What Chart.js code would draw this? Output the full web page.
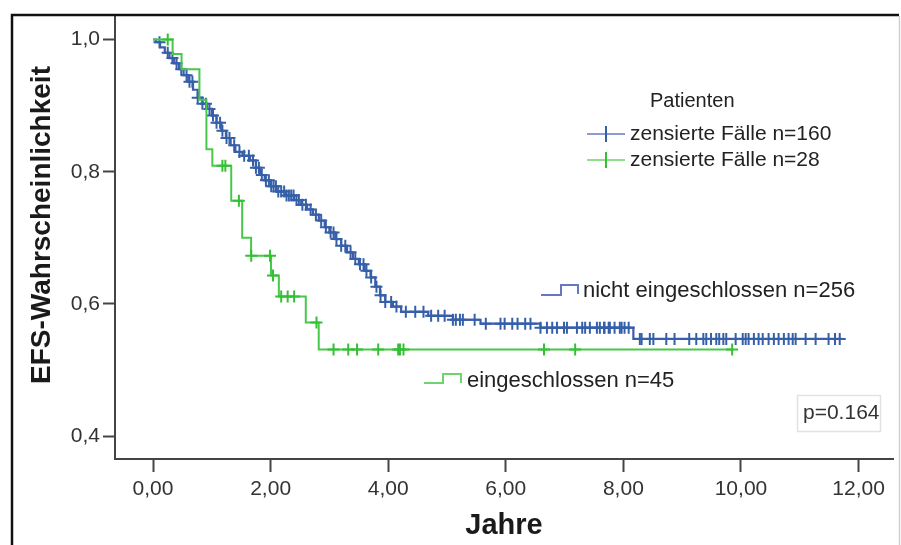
<!DOCTYPE html>
<html><head><meta charset="utf-8">
<script src="https://cdn.jsdelivr.net/npm/chart.js@4"></script>
<style>html,body{margin:0;padding:0;background:#fff}canvas{display:block}</style>
</head><body>
<canvas id="c" width="901" height="545"></canvas>
<script>
// ---- Data ----
const xTicks = [0, 2, 4, 6, 8, 10, 12];
const xTickLabels = ['0,00', '2,00', '4,00', '6,00', '8,00', '10,00', '12,00'];
const yTicks = [0.4, 0.6, 0.8, 1.0];
const yTickLabels = ['0,4', '0,6', '0,8', '1,0'];

const xTitle = 'Jahre';
const yTitle = 'EFS-Wahrscheinlichkeit';
const legendTitle = 'Patienten';
const seriesLabels = ['nicht eingeschlossen n=256', 'eingeschlossen n=45'];
const censorLabels = ['zensierte Fälle n=160', 'zensierte Fälle n=28'];
const pValueText = 'p=0.164';

// Group "nicht eingeschlossen" (blue): event times and survival after each event
const blueTimes = [0, 0.05, 0.12, 0.20, 0.28, 0.36, 0.44, 0.52, 0.60, 0.68, 0.76, 0.84, 0.92, 1.00, 1.08, 1.16, 1.24, 1.32, 1.40, 1.52, 1.65, 1.75, 1.82, 1.90, 2.00, 2.10, 2.25, 2.40, 2.52, 2.62, 2.72, 2.82, 2.92, 3.00, 3.10, 3.20, 3.30, 3.40, 3.50, 3.60, 3.70, 3.78, 3.86, 3.95, 4.08, 4.22, 4.68, 5.10, 5.57, 6.59, 8.17];
const blueSurv  = [1.000, 0.996, 0.988, 0.980, 0.972, 0.964, 0.955, 0.946, 0.936, 0.924, 0.912, 0.903, 0.895, 0.885, 0.874, 0.862, 0.851, 0.840, 0.830, 0.824, 0.817, 0.806, 0.795, 0.787, 0.778, 0.770, 0.764, 0.757, 0.750, 0.743, 0.735, 0.726, 0.716, 0.708, 0.698, 0.688, 0.678, 0.668, 0.660, 0.650, 0.640, 0.626, 0.613, 0.603, 0.596, 0.588, 0.582, 0.576, 0.570, 0.564, 0.547];
const blueEnd = 11.72;
const blueCensor = [0.11, 0.25, 0.33, 0.40, 0.48, 0.57, 0.62, 0.67, 0.76, 0.84, 0.90, 0.96, 1.02, 1.08, 1.14, 1.18, 1.25, 1.30, 1.38, 1.47, 1.55, 1.63, 1.70, 1.75, 1.80, 1.85, 1.92, 1.97, 2.01, 2.05, 2.09, 2.13, 2.18, 2.23, 2.27, 2.31, 2.35, 2.39, 2.44, 2.48, 2.54, 2.60, 2.68, 2.77, 2.86, 2.94, 3.02, 3.07, 3.12, 3.20, 3.27, 3.36, 3.44, 3.52, 3.58, 3.63, 3.71, 3.80, 3.87, 3.95, 4.05, 4.14, 4.30, 4.46, 4.60, 4.73, 4.85, 4.96, 5.10, 5.15, 5.22, 5.27, 5.47, 5.66, 5.91, 5.98, 6.11, 6.20, 6.33, 6.42, 6.59, 6.70, 6.79, 6.87, 6.99, 7.04, 7.21, 7.30, 7.35, 7.43, 7.55, 7.60, 7.67, 7.68, 7.75, 7.77, 7.85, 7.94, 7.97, 8.02, 8.09, 8.28, 8.31, 8.45, 8.51, 8.73, 8.87, 9.12, 9.24, 9.36, 9.41, 9.49, 9.58, 9.63, 9.70, 9.75, 9.91, 10.03, 10.08, 10.13, 10.22, 10.30, 10.37, 10.47, 10.56, 10.64, 10.73, 10.81, 10.88, 10.93, 11.10, 11.27, 11.49, 11.60, 11.68];

// Group "eingeschlossen" (green)
const greenTimes = [0, 0.333, 0.485, 0.789, 0.908, 1.009, 1.33, 1.516, 1.668, 2.006, 2.14, 2.598, 2.818];
const greenSurv  = [1.000, 0.978, 0.955, 0.909, 0.834, 0.809, 0.756, 0.700, 0.673, 0.643, 0.611, 0.572, 0.531];
const greenEnd = 9.85;
const greenCensor = [0.25, 1.18, 1.23, 1.46, 1.67, 1.99, 2.04, 2.18, 2.29, 2.40, 2.78, 3.07, 3.32, 3.47, 3.83, 4.17, 4.20, 4.26, 6.65, 7.18, 9.85];

// ---- Helpers ----
const BLUE = '#4058b0';
const BLUE_MARK = '#3560a8';
const GREEN = '#48c848';
const GREEN_MARK = '#34c034';

function stepAt(times, surv, t) {
  let s = surv[0];
  for (let i = 0; i < times.length; i++) { if (times[i] <= t) s = surv[i]; else break; }
  return s;
}
function curve(times, surv, end) {
  const pts = times.map((t, i) => ({x: t, y: surv[i]}));
  pts.push({x: end, y: surv[surv.length - 1]});
  return pts;
}
function marks(times, surv, cens) {
  return cens.map(t => ({x: t, y: stepAt(times, surv, t)}));
}

const FONT = '"Liberation Sans", Arial, sans-serif';

const decor = {
  id: 'decor',
  beforeDraw(chart) {
    const ctx = chart.ctx;
    ctx.save();
    ctx.fillStyle = '#fff';
    ctx.fillRect(0, 0, chart.width, chart.height);
    ctx.restore();
  },
  afterDraw(chart) {
    const ctx = chart.ctx;
    ctx.save();
    // outer frame
    ctx.strokeStyle = '#111';
    ctx.lineWidth = 2.5;
    ctx.beginPath();
    ctx.moveTo(12, 545); ctx.lineTo(12, 15); ctx.lineTo(899, 15);
    ctx.stroke();
    ctx.strokeStyle = '#d0d0d0';
    ctx.lineWidth = 1.5;
    ctx.beginPath(); ctx.moveTo(899.5, 16); ctx.lineTo(899.5, 545); ctx.stroke();

    // y title
    ctx.fillStyle = '#1a1a1a';
    ctx.font = 'bold 28px ' + FONT;
    ctx.textAlign = 'center';
    ctx.textBaseline = 'middle';
    ctx.save();
    ctx.translate(42, 225);
    ctx.rotate(-Math.PI / 2);
    ctx.fillText(yTitle, 0, 0);
    ctx.restore();

    // legend
    ctx.textAlign = 'left';
    ctx.fillStyle = '#222';
    ctx.font = '20px ' + FONT;
    ctx.fillText(legendTitle, 650, 101);
    ctx.font = '21px ' + FONT;
    const entries = [[BLUE, BLUE_MARK, 134, censorLabels[0]], [GREEN, GREEN_MARK, 160, censorLabels[1]]];
    for (const [lc, mc, y, txt] of entries) {
      ctx.strokeStyle = lc; ctx.globalAlpha = 0.6; ctx.lineWidth = 2;
      ctx.beginPath(); ctx.moveTo(587, y); ctx.lineTo(625, y); ctx.stroke();
      ctx.globalAlpha = 1; ctx.strokeStyle = mc; ctx.lineWidth = 2;
      ctx.beginPath(); ctx.moveTo(606, y - 8); ctx.lineTo(606, y + 8); ctx.stroke();
      ctx.fillStyle = '#222';
      ctx.fillText(txt, 630, y);
    }

    // inline series labels with step symbols
    ctx.lineWidth = 2;
    ctx.strokeStyle = BLUE; ctx.globalAlpha = 0.8;
    ctx.beginPath(); ctx.moveTo(541, 295); ctx.lineTo(561, 295); ctx.lineTo(561, 285); ctx.lineTo(578, 285); ctx.lineTo(578, 294); ctx.stroke();
    ctx.strokeStyle = GREEN;
    ctx.beginPath(); ctx.moveTo(424, 383); ctx.lineTo(443, 383); ctx.lineTo(443, 374); ctx.lineTo(461, 374); ctx.lineTo(461, 383); ctx.stroke();
    ctx.globalAlpha = 1;
    ctx.fillStyle = '#222';
    ctx.font = '22px ' + FONT;
    ctx.fillText(seriesLabels[0], 583, 291);
    ctx.fillText(seriesLabels[1], 467, 381);

    // p-value box
    ctx.font = '21px ' + FONT;
    ctx.strokeStyle = '#e2e2e2'; ctx.lineWidth = 1.5;
    ctx.strokeRect(797.5, 395.5, 83, 36);
    ctx.fillStyle = '#333';
    ctx.fillText(pValueText, 803, 413);
    ctx.restore();
  }
};

new Chart(document.getElementById('c'), {
  data: {
    datasets: [
      { type: 'scatter', data: marks(greenTimes, greenSurv, greenCensor), showLine: false,
        pointStyle: 'cross', pointRadius: 6, borderColor: GREEN_MARK, borderWidth: 2, backgroundColor: GREEN_MARK },
      { type: 'line', data: curve(greenTimes, greenSurv, greenEnd), stepped: 'before',
        borderColor: GREEN, borderWidth: 2, pointRadius: 0, fill: false },
      { type: 'scatter', data: marks(blueTimes, blueSurv, blueCensor), showLine: false,
        pointStyle: 'cross', pointRadius: 6, borderColor: BLUE_MARK, borderWidth: 2, backgroundColor: BLUE_MARK },
      { type: 'line', data: curve(blueTimes, blueSurv, blueEnd), stepped: 'before',
        borderColor: BLUE, borderWidth: 2.2, pointRadius: 0, fill: false }
    ]
  },
  options: {
    responsive: false,
    animation: false,
    events: [],
    layout: { padding: { left: 0, top: 14, right: 3, bottom: 0 } },
    plugins: { legend: { display: false }, tooltip: { enabled: false }, title: { display: false } },
    scales: {
      x: {
        type: 'linear', position: 'bottom', min: -0.647, max: 12.586,
        afterBuildTicks: s => { s.ticks = xTicks.map(v => ({ value: v })); },
        afterFit: s => { s.height = 86; },
        ticks: { callback: (v, i) => xTickLabels[i], font: { size: 21, family: FONT }, color: '#333', padding: 5, maxRotation: 0, autoSkip: false },
        grid: { drawOnChartArea: false, drawTicks: true, tickLength: 13, tickWidth: 2, tickColor: '#444' },
        border: { color: '#444', width: 2 },
        title: { display: true, text: xTitle, font: { size: 29, weight: 'bold', family: FONT }, color: '#1a1a1a', padding: { top: 0, bottom: 2 } }
      },
      y: {
        type: 'linear', position: 'left', min: 0.3653, max: 1.0362,
        afterBuildTicks: s => { s.ticks = yTicks.map(v => ({ value: v })); },
        afterFit: s => { s.width = 115; },
        ticks: { callback: (v, i) => yTickLabels[i], font: { size: 21, family: FONT }, color: '#333', padding: 3, autoSkip: false },
        grid: { drawOnChartArea: false, drawTicks: true, tickLength: 12, tickWidth: 2, tickColor: '#444' },
        border: { color: '#444', width: 2 }
      }
    }
  },
  plugins: [decor]
});
</script>
</body></html>
